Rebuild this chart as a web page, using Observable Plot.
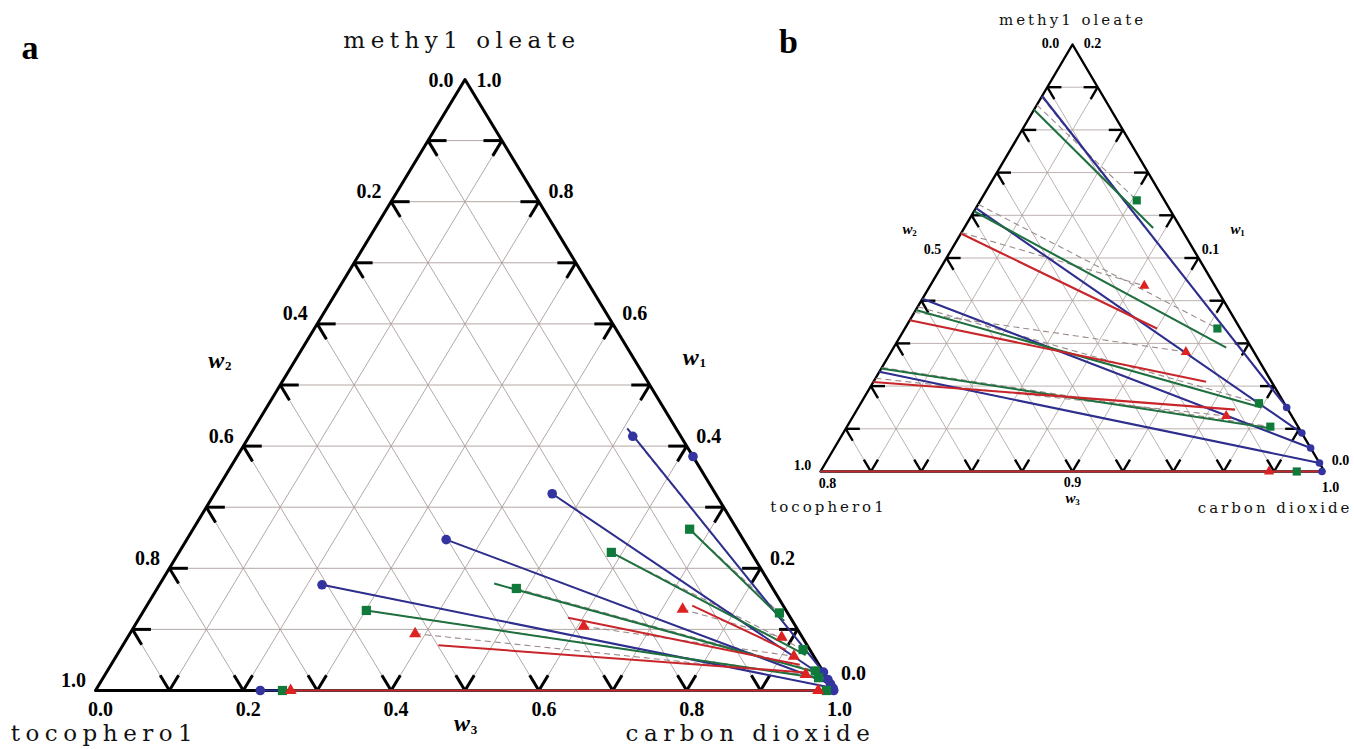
<!DOCTYPE html>
<html><head><meta charset="utf-8">
<script src="https://cdn.jsdelivr.net/npm/d3@7"></script>
<script src="https://cdn.jsdelivr.net/npm/@observablehq/plot@0.6"></script>
<style>
body{margin:0;background:#fff;}
#wrap{position:relative;width:1354px;height:749px;overflow:hidden;background:#fff;}
#wrap svg{position:absolute;top:0;}
</style></head><body><div id="wrap"></div>
<script>
// ---- data: mass fractions w1 (methyl oleate), w2 (tocopherol); w3 (CO2) = 1 - w1 - w2 ----
// each tie line: [w1 liquid, w2 liquid, w1 vapour, w2 vapour]
const blueExp = [
  [0.416, 0.065, 0.030, 0.000],
  [0.322, 0.221, 0.018, 0.000],
  [0.247, 0.402, 0.011, 0.000],
  [0.173, 0.607, 0.004, 0.000],
  [0.000, 0.777, 0.000, 0.001]
];
const blueCalc = [
  [0.429, 0.066, 0.030, 0.000],
  [0.322, 0.221, 0.018, 0.000],
  [0.247, 0.402, 0.011, 0.000],
  [0.173, 0.607, 0.004, 0.000],
  [0.000, 0.777, 0.000, 0.000]
];
const blueBinary = [[0.383, 0.000]];
const greenExp = [
  [0.264, 0.064, 0.127, 0.011],
  [0.226, 0.189, 0.067, 0.009],
  [0.167, 0.347, 0.032, 0.010],
  [0.131, 0.568, 0.021, 0.011],
  [0.000, 0.747, 0.000, 0.011]
];
const greenCalc = [
  [0.264, 0.064, 0.114, 0.011],
  [0.226, 0.189, 0.058, 0.010],
  [0.175, 0.373, 0.030, 0.010],
  [0.131, 0.568, 0.020, 0.010],
  [0.000, 0.747, 0.000, 0.000]
];
const redExp = [
  [0.133, 0.139, 0.087, 0.028],
  [0.105, 0.287, 0.056, 0.027],
  [0.093, 0.521, 0.026, 0.026],
  [0.000, 0.736, 0.000, 0.022]
];
const redCalc = [
  [0.139, 0.123, 0.067, 0.033],
  [0.119, 0.301, 0.042, 0.026],
  [0.074, 0.499, 0.029, 0.021],
  [0.000, 0.736, 0.000, 0.000]
];
// grid / tick positions (fraction of each triangle side)
const gridSteps = [0.1, 0.2, 0.3, 0.4, 0.5, 0.6, 0.7, 0.8, 0.9];
// tick labels
const aLeftVals = [0.2, 0.4, 0.6, 0.8, 1.0];
const aRightVals = [0.8, 0.6, 0.4, 0.2];
const aBottomVals = [0.0, 0.2, 0.4, 0.6, 0.8, 1.0];
const bLeftLabels = ["0.0", "0.5", "1.0"];
const bRightLabels = ["0.2", "0.1", "0.0"];
const bBottomLabels = ["0.8", "0.9", "1.0"];
const names = {top: "methy1 oleate", left: "tocophero1", right: "carbon dioxide"};

const COL = {
  blueLine: "#2e2e8e", blueDot: "#3434a0",
  greenLine: "#1f6f3f", greenDot: "#0f7a3a",
  redLine: "#c8262a", redDot: "#dd2222"
};

function buildPanel(o) {
  const [T, L, R] = o.verts;
  const P = (a, b, c) => [0, 1, 2].map(i => a * T[i] + b * L[i] + c * R[i]);
  const X = w => w[2] + 0.5 * w[0], Y = w => w[0];
  const seg = (p, q) => ({x1: X(p), y1: Y(p), x2: X(q), y2: Y(q)});
  const pt = w => ({x: X(w), y: Y(w)});
  const W = (w1, w2) => [w1, w2, 1 - w1 - w2];
  const w3min = o.w3min;
  const inside = w => w[2] >= w3min - 1e-9;
  const clip = (Lw, Vw) => {
    if (Lw[2] >= w3min - 1e-9) return [Lw, Vw];
    const t = (w3min - Vw[2]) / (Lw[2] - Vw[2]);
    return [Vw.map((v, i) => v + t * (Lw[i] - v)), Vw];
  };
  const tieSegs = rows => rows.map(r => { const [a, b] = clip(W(r[0], r[1]), W(r[2], r[3])); return seg(a, b); });
  const tiePts = rows => rows.flatMap(r => [W(r[0], r[1]), W(r[2], r[3])]).filter(inside).map(pt);

  const grid = [];
  for (const k of gridSteps) {
    grid.push(seg(P(k, 1 - k, 0), P(k, 0, 1 - k)));
    grid.push(seg(P(1 - k, k, 0), P(0, k, 1 - k)));
    grid.push(seg(P(0, 1 - k, k), P(1 - k, 0, k)));
  }
  const d = o.tickLen, ticks = [];
  for (const k of gridSteps) {
    ticks.push(seg(P(0, 1 - k, k), P(d, 1 - k - d, k)), seg(P(0, 1 - k, k), P(d, 1 - k, k - d)));
    ticks.push(seg(P(k, 1 - k, 0), P(k, 1 - k - d, d)), seg(P(k, 1 - k, 0), P(k - d, 1 - k, d)));
    ticks.push(seg(P(k, 0, 1 - k), P(k, d, 1 - k - d)), seg(P(k, 0, 1 - k), P(k - d, d, 1 - k)));
  }
  const outline = [T, L, R, T, L].map(pt);
  const linkXY = {x1: "x1", y1: "y1", x2: "x2", y2: "y2"};
  const marks = [
    Plot.link(grid, {...linkXY, stroke: "#ab9e9c", strokeWidth: o.gridW}),
    Plot.line(outline, {x: "x", y: "y", stroke: "black", strokeWidth: o.edgeW, strokeLinejoin: "miter"}),
    Plot.link(ticks, {...linkXY, stroke: "black", strokeWidth: o.tickW}),
    Plot.link([...tieSegs(blueExp), ...tieSegs(greenExp), ...tieSegs(redExp)],
      {...linkXY, stroke: "#9a8a8a", strokeWidth: 1.1, strokeDasharray: "6,4"}),
    Plot.link(tieSegs(blueCalc), {...linkXY, stroke: COL.blueLine, strokeWidth: o.lineW}),
    Plot.link(tieSegs(greenCalc), {...linkXY, stroke: COL.greenLine, strokeWidth: o.lineW}),
    Plot.link(tieSegs(redCalc), {...linkXY, stroke: COL.redLine, strokeWidth: o.lineW}),
    Plot.dot([...tiePts(blueExp), ...blueBinary.map(r => W(r[0], r[1])).filter(inside).map(pt)],
      {x: "x", y: "y", symbol: "circle", r: o.rC, fill: COL.blueDot}),
    Plot.dot(tiePts(greenExp), {x: "x", y: "y", symbol: "square", r: o.rS, fill: COL.greenDot}),
    Plot.dot(tiePts(redExp), {x: "x", y: "y", symbol: "triangle", r: o.rT, fill: COL.redDot})
  ];
  // text helpers
  const num = {fontFamily: "Liberation Serif", fontWeight: "bold", fontSize: o.numSize};
  const txt = (pos, text, dx, dy, extra = {}) =>
    Plot.text([{...pt(pos), t: text}], {x: "x", y: "y", text: "t", dx, dy, ...num, ...extra});
  for (const lab of o.labels) marks.push(txt(P(...lab.p), lab.t, lab.dx, lab.dy));
  // axis names (w labels)
  for (const w of o.wLabels) {
    marks.push(txt(P(...w.p), "w", w.dx, w.dy, {fontStyle: "italic", fontSize: o.wSize}));
    marks.push(txt(P(...w.p), w.sub, w.dx + o.subDx, w.dy + o.subDy, {fontSize: o.subSize}));
  }
  // component names
  const nm = {fontFamily: "DejaVu Serif", fontSize: o.nameSize, fill: "#111"};
  marks.push(Plot.text([{...pt(T), t: names.top}], {x: "x", y: "y", text: "t", dx: o.top[0], dy: o.top[1], ...nm}));
  marks.push(Plot.text([{...pt(L), t: names.left}], {x: "x", y: "y", text: "t", dx: o.left[0], dy: o.left[1], ...nm}));
  marks.push(Plot.text([{...pt(R), t: names.right}], {x: "x", y: "y", text: "t", dx: o.right[0], dy: o.right[1], textAnchor: o.rightAnchor, ...nm}));
  // panel letter, placed relative to the apex
  marks.push(txt(T, o.letter, o.letterPos[0], o.letterPos[1], {fontSize: o.letterSize}));

  const svg = Plot.plot({
    width: o.width, height: 749,
    x: {axis: null, domain: o.xDomain, range: o.xRange},
    y: {axis: null, domain: o.yDomain, range: o.yRange},
    style: {background: "transparent", overflow: "visible"},
    marks
  });
  svg.querySelectorAll('g[font-family="DejaVu Serif"]').forEach(g => g.setAttribute("letter-spacing", o.ls));
  svg.style.left = o.left0 + "px";
  return svg;
}

const panelA = buildPanel({
  verts: [[1, 0, 0], [0, 1, 0], [0, 0, 1]], w3min: 0,
  width: 900, left0: 0,
  xDomain: [0, 1], xRange: [95, 834], yDomain: [0, 1], yRange: [690, 79],
  tickLen: 0.025, gridW: 0.9, edgeW: 3, tickW: 3, lineW: 2,
  rC: 4.8, rS: 5.2, rT: 4.5, numSize: 20,
  labels: [
    {p: [1, 0, 0], t: "0.0", dx: -24, dy: 1}, {p: [1, 0, 0], t: "1.0", dx: 24, dy: 1},
    ...aLeftVals.map(k => ({p: [1 - k, k, 0], t: k.toFixed(1), dx: -22, dy: -10})),
    ...aRightVals.map(k => ({p: [k, 0, 1 - k], t: k.toFixed(1), dx: 22, dy: -10})),
    {p: [0, 0, 1], t: "0.0", dx: 19, dy: -17},
    ...aBottomVals.map(k => ({p: [0, 1 - k, k], t: k.toFixed(1), dx: 5, dy: 19}))
  ],
  wSize: 24, subSize: 13, subDx: 12, subDy: 6,
  wLabels: [
    {p: [0.5, 0.5, 0], sub: "2", dx: -64, dy: -25},
    {p: [0.5, 0, 0.5], sub: "1", dx: 41, dy: -28},
    {p: [0, 0.5, 0.5], sub: "3", dx: -3, dy: 33}
  ],
  nameSize: 23, ls: 5.5,
  top: [-3, -39], left: [9, 43], right: [-84, 43], rightAnchor: "middle",
  letter: "a", letterSize: 34, letterPos: [-435, -31]
});

const panelB = buildPanel({
  verts: [[0.2, 0, 0.8], [0, 0.2, 0.8], [0, 0, 1]], w3min: 0.8,
  width: 614, left0: 740,
  xDomain: [0.8, 1.0], xRange: [80, 584], yDomain: [0, 0.2], yRange: [471, 44],
  tickLen: 0.028, gridW: 0.8, edgeW: 2.4, tickW: 2.4, lineW: 2.1,
  rC: 3.8, rS: 4.6, rT: 3.8, numSize: 14,
  labels: [
    {p: [1, 0, 0], t: bLeftLabels[0], dx: -22, dy: -1},
    {p: [0.5, 0.5, 0], t: bLeftLabels[1], dx: -14, dy: -8},
    {p: [0, 1, 0], t: bLeftLabels[2], dx: -18, dy: -6},
    {p: [1, 0, 0], t: bRightLabels[0], dx: 20, dy: -1},
    {p: [0.5, 0, 0.5], t: bRightLabels[1], dx: 12, dy: -8},
    {p: [0, 0, 1], t: bRightLabels[2], dx: 16, dy: -11},
    {p: [0, 1, 0], t: bBottomLabels[0], dx: 7, dy: 12},
    {p: [0, 0.5, 0.5], t: bBottomLabels[1], dx: 0, dy: 11},
    {p: [0, 0, 1], t: bBottomLabels[2], dx: 6, dy: 16}
  ],
  wSize: 15, subSize: 9, subDx: 7, subDy: 4,
  wLabels: [
    {p: [0.5, 0.5, 0], sub: "2", dx: -39, dy: -29},
    {p: [0.5, 0, 0.5], sub: "1", dx: 37, dy: -29},
    {p: [0, 0.5, 0.5], sub: "3", dx: -2, dy: 27}
  ],
  nameSize: 15, ls: 3,
  top: [0, -24], left: [8, 36], right: [28, 37], rightAnchor: "end",
  letter: "b", letterSize: 34, letterPos: [-284, -2]
});

document.getElementById("wrap").append(panelA, panelB);
</script></body></html>
